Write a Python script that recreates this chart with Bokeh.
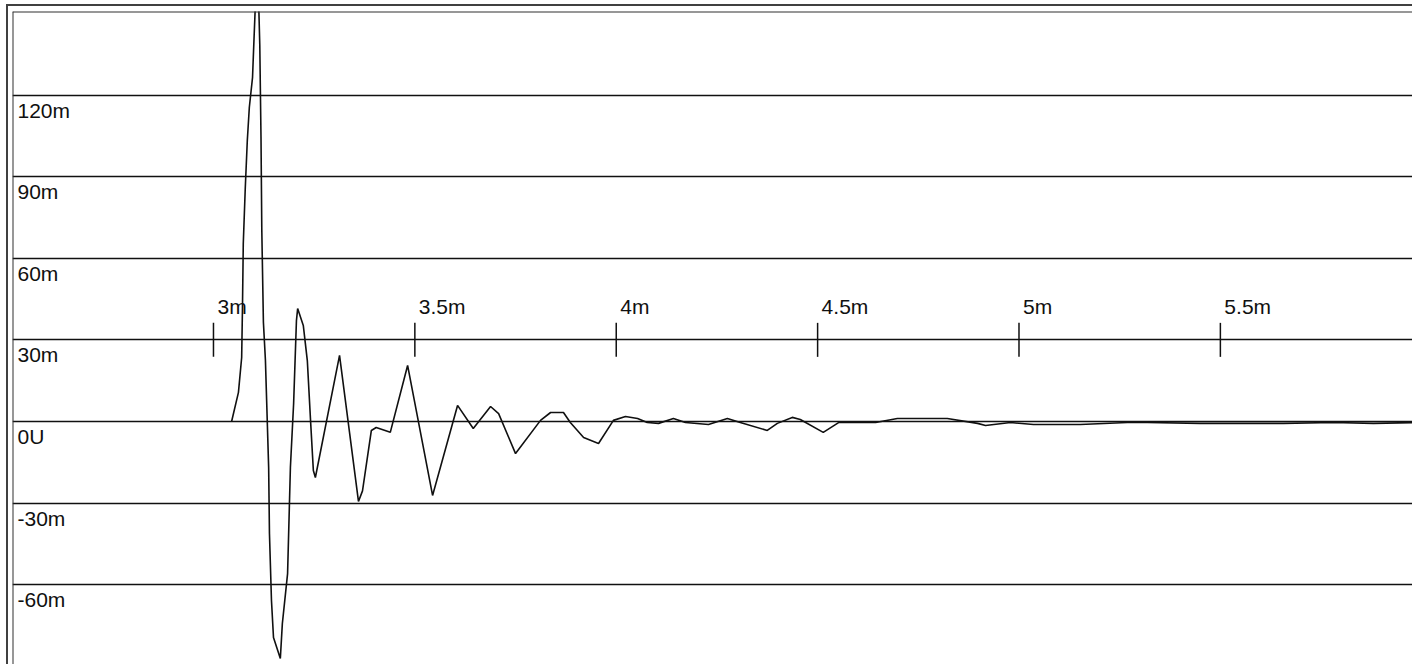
import math
from bokeh.plotting import figure
from bokeh.models import Range1d, FixedTicker, Grid, Span
from bokeh.embed import file_html
from bokeh.resources import INLINE
from bokeh.core.properties import value

# Waveform: time in ms (axis labels use "m"), amplitude in milli-units
t_ms = [3.045, 3.062, 3.070, 3.072, 3.074, 3.079, 3.084, 3.089, 3.097, 3.100,
        3.109, 3.115, 3.118, 3.120, 3.124, 3.129, 3.132, 3.137, 3.139, 3.144,
        3.149, 3.166, 3.171, 3.184, 3.191, 3.199, 3.206, 3.209, 3.223, 3.233,
        3.241, 3.248, 3.253, 3.313, 3.360, 3.370, 3.392, 3.404, 3.439, 3.482,
        3.544, 3.606, 3.645, 3.688, 3.708, 3.750, 3.812, 3.837, 3.869, 3.886,
        3.919, 3.956, 3.993, 4.023, 4.053, 4.077, 4.105, 4.142, 4.172, 4.229,
        4.276, 4.308, 4.375, 4.400, 4.437, 4.457, 4.514, 4.552, 4.574, 4.644,
        4.698, 4.822, 4.897, 4.917, 4.979, 5.036, 5.152, 5.269, 5.319, 5.450,
        5.592, 5.656, 5.781, 5.880, 5.979]
v_m = [0.0, 10.7, 23.5, 41.9, 65.4, 86.0, 103.3, 115.4, 126.5, 138.2,
       172.0, 138.2, 104.4, 70.2, 36.4, 22.4, 7.7, -16.9, -41.2, -65.8,
       -79.4, -87.1, -74.3, -55.9, -16.9, 6.6, 37.1, 41.5, 35.3, 22.4,
       0.4, -18.0, -20.6, 24.3, -29.4, -25.5, -3.3, -2.2, -4.0, 20.6,
       -27.2, 5.9, -2.6, 5.5, 2.9, -11.8, 0.4, 3.3, 3.3, -0.4,
       -5.9, -8.1, 0.4, 1.8, 1.1, -0.4, -0.7, 1.1, -0.4, -1.1,
       1.1, -0.4, -3.3, -0.7, 1.5, 0.7, -4.0, -0.4, -0.4, -0.4,
       1.1, 1.1, -0.7, -1.5, -0.4, -1.1, -1.1, -0.4, -0.4, -0.7,
       -0.7, -0.7, -0.4, -0.7, -0.4]

y_ticks = [-60, -30, 0, 30, 60, 90, 120]
y_labels = ["-60m", "-30m", "0U", "30m", "60m", "90m", "120m"]
x_ticks = [3.0, 3.5, 4.0, 4.5, 5.0, 5.5]
x_labels = ["3m", "3.5m", "4m", "4.5m", "5m", "5.5m"]
x_axis_level = 30

X_START, X_END = 2.501, 5.982
Y_START, Y_END = -89.7, 150.7

FONT = value("Liberation Sans")
FSIZE = "21px"
INK = "#101010"

p = figure(width=1406, height=660,
           x_range=Range1d(X_START, X_END), y_range=Range1d(Y_START, Y_END),
           output_backend="svg", toolbar_location=None,
           x_axis_location=None, y_axis_location=None,
           min_border_left=4, min_border_top=5, min_border_right=0,
           min_border_bottom=1)
for g in p.grid:
    g.visible = False
p.add_layout(Grid(dimension=1, ticker=FixedTicker(ticks=y_ticks),
                  grid_line_color=INK, grid_line_width=1.5), "center")
p.background_fill_color = "white"
p.border_fill_color = "white"
p.outline_line_color = None
p.styles = {"border-top": "2px solid #404040", "border-left": "2px solid #404040",
            "margin-left": "6px", "margin-top": "4px"}

# inner frame: left, top and bottom edges only (right edge runs off-screen)
for loc, dim in ((X_START, "height"), (Y_END, "width"), (Y_START, "width")):
    p.add_layout(Span(location=loc, dimension=dim, line_color="#303030",
                      line_width=2))

# waveform
p.line(t_ms, v_m, line_color=INK, line_width=1.6)

# time axis drawn across the 30m level
p.scatter(x_ticks, [x_axis_level] * len(x_ticks), marker="dash", size=34,
          angle=math.pi / 2, line_color=INK, line_width=1.5)
p.text(x_ticks, [x_axis_level] * len(x_ticks), text=x_labels,
       x_offset=4, y_offset=-33, text_baseline="middle", text_align="left",
       text_font=FONT, text_font_size=FSIZE, text_color=INK)

# amplitude labels inside the plot, just below each grid line
p.text([X_START] * len(y_ticks), y_ticks, text=y_labels,
       x_offset=5, y_offset=15, text_baseline="middle", text_align="left",
       text_font=FONT, text_font_size=FSIZE, text_color=INK)

open("out.html", "w").write(file_html(p, INLINE))
